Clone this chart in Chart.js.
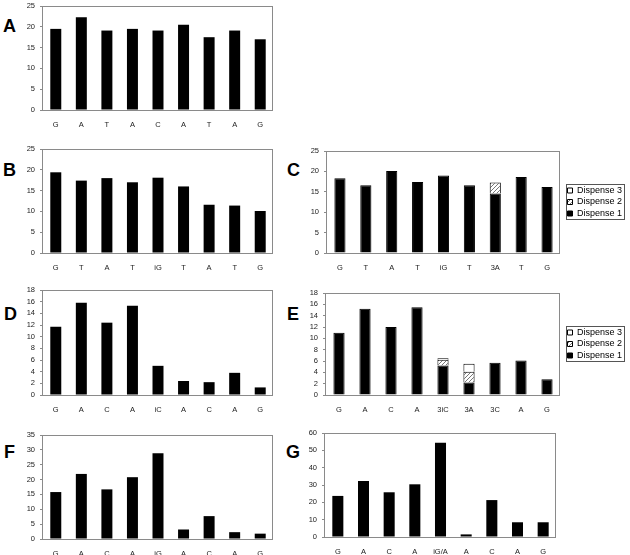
<!DOCTYPE html>
<html><head><meta charset="utf-8">
<script src="https://cdn.jsdelivr.net/npm/chart.js@4.4.1/dist/chart.umd.min.js"></script>
<style>
html,body{margin:0;padding:0;background:#fff;}
body{width:630px;height:555px;position:relative;overflow:hidden;font-family:"Liberation Sans",Arial,sans-serif;}
canvas{position:absolute;}
.pl{position:absolute;font-weight:bold;font-size:18px;line-height:18px;color:#000;font-family:"Liberation Sans",Arial,sans-serif;}
</style></head><body>
<div class="pl" style="left:3px;top:17px">A</div>
<div class="pl" style="left:3px;top:161px">B</div>
<div class="pl" style="left:287px;top:161px">C</div>
<div class="pl" style="left:4px;top:305px">D</div>
<div class="pl" style="left:287px;top:305px">E</div>
<div class="pl" style="left:4px;top:443px">F</div>
<div class="pl" style="left:286px;top:443px">G</div>
<canvas id="cA"></canvas><canvas id="cB"></canvas><canvas id="cC"></canvas>
<canvas id="cD"></canvas><canvas id="cE"></canvas><canvas id="cF"></canvas><canvas id="cG"></canvas>
<script>
// ---- data ----
const catsA = ['G','A','T','A','C','A','T','A','G'];
const valsA = [19.5,22.3,19.1,19.5,19.1,20.5,17.5,19.1,17.0];
const catsB = ['G','T','A','T','iG','T','A','T','G'];
const valsB = [19.4,17.4,18.0,17.0,18.1,16.0,11.6,11.4,10.1];
const catsC = ['G','T','A','T','iG','T','3A','T','G'];
const cDisp1 = [18.3,16.6,20.1,17.4,19.0,16.6,14.6,18.6,16.2];
const cDisp2 = [null,null,null,null,null,null,2.7,null,null];
const cDisp3 = [null,null,null,null,null,null,null,null,null];
const catsD = ['G','A','C','A','iC','A','C','A','G'];
const valsD = [11.7,15.8,12.4,15.3,5.0,2.4,2.2,3.8,1.3];
const catsE = ['G','A','C','A','3iC','3A','3C','A','G'];
const eDisp1 = [11.0,15.2,12.0,15.5,5.2,2.2,5.7,6.1,2.8];
const eDisp2 = [null,null,null,null,1.0,1.9,null,null,null];
const eDisp3 = [null,null,null,null,0.3,1.4,null,null,null];
const catsF = ['G','A','C','A','iG','A','C','A','G'];
const valsF = [15.8,21.9,16.7,20.8,28.9,3.2,7.7,2.3,1.8];
const catsG = ['G','A','C','A','iG/A','A','C','A','G'];
const valsG = [23.7,32.3,25.8,30.4,54.4,1.5,21.3,8.5,8.5];
const seriesNames = ['Dispense 1','Dispense 2','Dispense 3'];
const yMaxA=25, yStepA=5, yMaxB=25, yStepB=5, yMaxC=25, yStepC=5;
const yMaxD=18, yStepD=2, yMaxE=18, yStepE=2, yMaxF=35, yStepF=5, yMaxG=60, yStepG=10;

// ---- styling helpers ----
const YW = 30, XH = 20, PADTOP = 10, LW = 62, LSHIFT = 5;
const FONT = '"Liberation Sans", Arial, sans-serif';
function hatch(){
  const c=document.createElement('canvas'); c.width=4; c.height=4;
  const g=c.getContext('2d'); g.fillStyle='#fff'; g.fillRect(0,0,4,4);
  g.strokeStyle='#777'; g.lineWidth=1; g.beginPath(); g.moveTo(0,4); g.lineTo(4,0); g.stroke();
  return g.createPattern(c,'repeat');
}
const frame={id:'frame',afterDatasetsDraw(ch){
  const a=ch.chartArea,c=ch.ctx; c.save(); c.strokeStyle='#8a8a8a'; c.lineWidth=1;
  c.strokeRect(Math.round(a.left)-0.5,Math.round(a.top)+0.5,Math.round(a.right-a.left),Math.round(a.bottom-a.top));
  c.restore();}};
const legendFix={id:'legendFix',
  beforeLayout(ch){const lg=ch.legend; if(lg&&lg.options.display&&!lg._fixed){const f=lg.fit; lg.fit=function(){f.call(this); this.width=LW;}; lg._fixed=true;}},
  afterLayout(ch){const lg=ch.legend; if(lg&&lg.options.display){lg.left+=LSHIFT; lg.right+=LSHIFT;}}
};
const legendBox={id:'legendBox',afterDraw(ch){
  const l=ch.legend; if(!l||!l.options.display) return;
  const hb=l.legendHitBoxes; if(!hb||!hb.length) return;
  let x0=1e9,y0=1e9,x1=-1e9,y1=-1e9;
  hb.forEach(h=>{x0=Math.min(x0,h.left);y0=Math.min(y0,h.top);x1=Math.max(x1,h.left+h.width);y1=Math.max(y1,h.top+h.height);});
  const c=ch.ctx; c.save(); c.strokeStyle='#555'; c.lineWidth=1;
  c.strokeRect(Math.round(x0)-1.5,Math.round(y0)-1.5,Math.round(x1-x0)+3,Math.round(y1-y0)+3); c.restore();}};

function place(id,left,top,w,h){
  const cv=document.getElementById(id);
  cv.width=w; cv.height=h; cv.style.left=left+'px'; cv.style.top=top+'px';
  cv.style.width=w+'px'; cv.style.height=h+'px';
  return cv;
}
function makeChart(id,left,top,plotW,plotH,cats,datasets,yMax,yStep,withLegend){
  const padRight = withLegend ? 8 : 2;
  const cvLeft = left - YW;
  const w = withLegend ? (630 - cvLeft) : (YW + plotW + padRight);
  const h = PADTOP + plotH + XH;
  const cv=place(id,cvLeft,top-PADTOP,w,h);
  return new Chart(cv,{
    type:'bar',
    data:{labels:cats,datasets:datasets},
    options:{
      responsive:false, animation:false, devicePixelRatio:1,
      layout:{padding:{top:PADTOP,right:padRight,left:0,bottom:0}},
      datasets:{bar:{barPercentage:0.43,categoryPercentage:1.0}},
      plugins:{
        tooltip:{enabled:false},
        title:{display:false},
        legend:{display:withLegend,position:'right',align:'center',reverse:true,fullSize:false,
          labels:{boxWidth:5,boxHeight:5,padding:2.5,color:'#000',font:{family:FONT,size:9}}}
      },
      scales:{
        x:{stacked:true,grid:{display:false,drawTicks:false},border:{display:false},
           ticks:{color:'#222',font:{family:FONT,size:7.5},padding:10,maxRotation:0,autoSkip:false},
           afterFit(s){s.height=XH;}},
        y:{stacked:true,min:0,max:yMax,
           grid:{display:true,drawOnChartArea:false,drawTicks:true,tickLength:3,color:'#8a8a8a'},
           border:{display:false},
           ticks:{stepSize:yStep,autoSkip:false,color:'#222',font:{family:FONT,size:7.5,lineHeight:1},padding:5},
           afterFit(s){s.width=YW;}}
      }
    },
    plugins:[legendFix,frame,legendBox]
  });
}
function simple(vals){return [{label:'v',data:vals,backgroundColor:'#000',borderColor:'#000',borderWidth:0}];}
function stacked(d1,d2,d3){
  return [
    {label:seriesNames[0],data:d1,backgroundColor:'#000',borderColor:'#000',borderWidth:1},
    {label:seriesNames[1],data:d2,backgroundColor:hatch(),borderColor:'#000',borderWidth:1},
    {label:seriesNames[2],data:d3,backgroundColor:'#fff',borderColor:'#000',borderWidth:1}
  ];
}
makeChart('cA',43,6,230,104,catsA,simple(valsA),yMaxA,yStepA,false);
makeChart('cB',43,149,230,104,catsB,simple(valsB),yMaxB,yStepB,false);
makeChart('cC',327,151,233,102,catsC,stacked(cDisp1,cDisp2,cDisp3),yMaxC,yStepC,true);
makeChart('cD',43,290,230,105,catsD,simple(valsD),yMaxD,yStepD,false);
makeChart('cE',326,293,234,102,catsE,stacked(eDisp1,eDisp2,eDisp3),yMaxE,yStepE,true);
makeChart('cF',43,435,230,104,catsF,simple(valsF),yMaxF,yStepF,false);
makeChart('cG',325,433,231,104,catsG,simple(valsG),yMaxG,yStepG,false);
</script>
</body></html>
